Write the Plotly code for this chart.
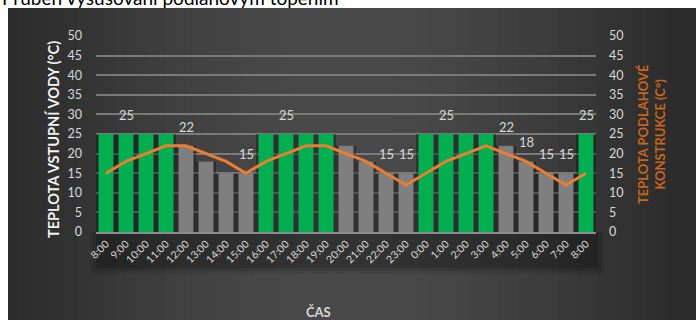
import math
import plotly.graph_objects as go

# ---- data ----
times = ["8:00", "9:00", "10:00", "11:00", "12:00", "13:00", "14:00", "15:00",
         "16:00", "17:00", "18:00", "19:00", "20:00", "21:00", "22:00", "23:00",
         "0:00", "1:00", "2:00", "3:00", "4:00", "5:00", "6:00", "7:00", "8:00 "]
water_temp = [25, 25, 25, 25, 22, 18, 15, 15,
              25, 25, 25, 25, 22, 18, 15, 15,
              25, 25, 25, 25, 22, 18, 15, 15, 25]
floor_temp = [15, 18, 20, 22, 22, 20, 18, 15,
              18, 20, 22, 22, 20, 18, 15, 12,
              15, 18, 20, 22, 20, 18, 15, 12, 15]
heating_on = [1, 1, 1, 1, 0, 0, 0, 0,
              1, 1, 1, 1, 0, 0, 0, 0,
              1, 1, 1, 1, 0, 0, 0, 0, 1]
bar_labels = ["", "25", "", "", "22", "", "", "15",
              "", "25", "", "", "", "", "15", "15",
              "", "25", "", "", "22", "18", "15", "15", "25"]
tick_text = [t.strip() for t in times]
y_ticks = list(range(0, 55, 5))

title_text = "Průběh vysušování podlahovým topením"
left_title = "TEPLOTA VSTUPNÍ VODY (°C)"
right_title = "TEPLOTA PODLAHOVÉ<br>KONSTRUKCE (C°)"
x_title = "ČAS"

# ---- style ----
W, H = 696, 320
ML, MR, MT, MB = 96, 100, 36, 88
PW, PH = W - ML - MR, H - MT - MB
FONT = "Lato"
GREEN = "#00b050"
GRAY = "#7f7f7f"
ORANGE = "#ed7d31"
ORANGE_T = "#c8651b"
TXT = "#d9d9d9"


def px(x):
    return (x - ML) / PW


def py(y):
    return (H - MB - y) / PH


bar_colors = [GREEN if h else GRAY for h in heating_on]

fig = go.Figure()
# shadow behind bars
fig.add_trace(go.Bar(x=times, y=water_temp, width=1.0,
                     marker=dict(color="rgba(0,0,0,0.33)", line=dict(width=0)),
                     hoverinfo="skip", showlegend=False))
fig.add_trace(go.Bar(x=times, y=water_temp, width=0.75,
                     marker=dict(color=bar_colors, line=dict(width=0)),
                     showlegend=False, name="voda"))
fig.add_trace(go.Scatter(x=times, y=floor_temp, yaxis="y2", mode="lines",
                         line=dict(color=ORANGE, width=3),
                         showlegend=False, name="podlaha"))

shapes = []
# dark panel with horizontal gradient
N = 70
x0p, x1p, y0p, y1p = 8, W, 8, H
for i in range(N):
    a = x0p + (x1p - x0p) * i / N
    b = x0p + (x1p - x0p) * (i + 1) / N
    t = (i + 0.5) / N
    c = int(44 + 30 * math.sin(math.pi * min(1, t / 0.98)) ** 1.2)
    shapes.append(dict(type="rect", xref="paper", yref="paper",
                       x0=px(a), x1=px(b) + 0.002, y0=py(y1p), y1=py(y0p),
                       fillcolor=f"rgb({c},{c},{c})", line=dict(width=0),
                       layer="below"))
# darker band under plot area (tick label shadow)
for k, (pad, alpha) in enumerate([(6, 0.08), (3, 0.10), (0, 0.16)]):
    shapes.append(dict(type="rect", xref="paper", yref="paper",
                       x0=px(ML - pad), x1=px(W - MR + 2 + pad),
                       y0=py(268 + pad), y1=py(H - MB),
                       fillcolor=f"rgba(0,0,0,{alpha})", line=dict(width=0),
                       layer="below"))

annotations = []
for t, v, lab in zip(times, water_temp, bar_labels):
    if lab:
        annotations.append(dict(x=t, y=v, xref="x", yref="y", text=lab,
                                showarrow=False, yshift=19,
                                font=dict(family=FONT, size=13, color=TXT)))
annotations += [
    dict(x=px(0), y=py(11), xref="paper", yref="paper", xanchor="left",
         yanchor="bottom", text=title_text, showarrow=False,
         font=dict(family=FONT, size=19, color="#000000")),
    dict(x=px(53), y=py(140), xref="paper", yref="paper", text=left_title,
         xanchor="center", yanchor="middle",
         textangle=-90, showarrow=False,
         font=dict(family=FONT, size=14.5, color="#f2f2f2", weight="bold")),
    dict(x=px(651), y=py(134), xref="paper", yref="paper", text=right_title,
         xanchor="center", yanchor="middle",
         textangle=-90, showarrow=False,
         font=dict(family=FONT, size=13, color=ORANGE_T, weight="bold")),
    dict(x=px(318), y=py(312), xref="paper", yref="paper", text=x_title,
         xanchor="center", yanchor="middle", showarrow=False,
         font=dict(family=FONT, size=13, color=TXT, weight="bold")),
]

fig.update_layout(
    width=W, height=H,
    margin=dict(l=ML, r=MR, t=MT, b=MB, pad=0),
    paper_bgcolor="white", plot_bgcolor="rgba(0,0,0,0)",
    barmode="overlay", bargap=0.25,
    shapes=shapes, annotations=annotations,
    font=dict(family=FONT, color=TXT),
    xaxis=dict(type="category", tickmode="array", tickvals=times,
               ticktext=tick_text, tickangle=-45,
               tickfont=dict(family=FONT, size=10.5, color=TXT),
               showgrid=False, showline=True, linecolor="#8c8c8c",
               linewidth=1.5, ticks="", range=[-0.5, len(times) - 0.5]),
    yaxis=dict(range=[0, 50], tickvals=y_ticks, showgrid=True,
               gridcolor="#7a7a7a", gridwidth=1.5, zeroline=False,
               tickfont=dict(family=FONT, size=12.5, color=TXT),
               ticks="", ticklabelstandoff=13),
    yaxis2=dict(range=[0, 50], tickvals=y_ticks, overlaying="y",
                side="right", showgrid=False, zeroline=False,
                tickfont=dict(family=FONT, size=12.5, color=TXT),
                ticks="", ticklabelstandoff=12),
)

fig.write_html("out.html")
